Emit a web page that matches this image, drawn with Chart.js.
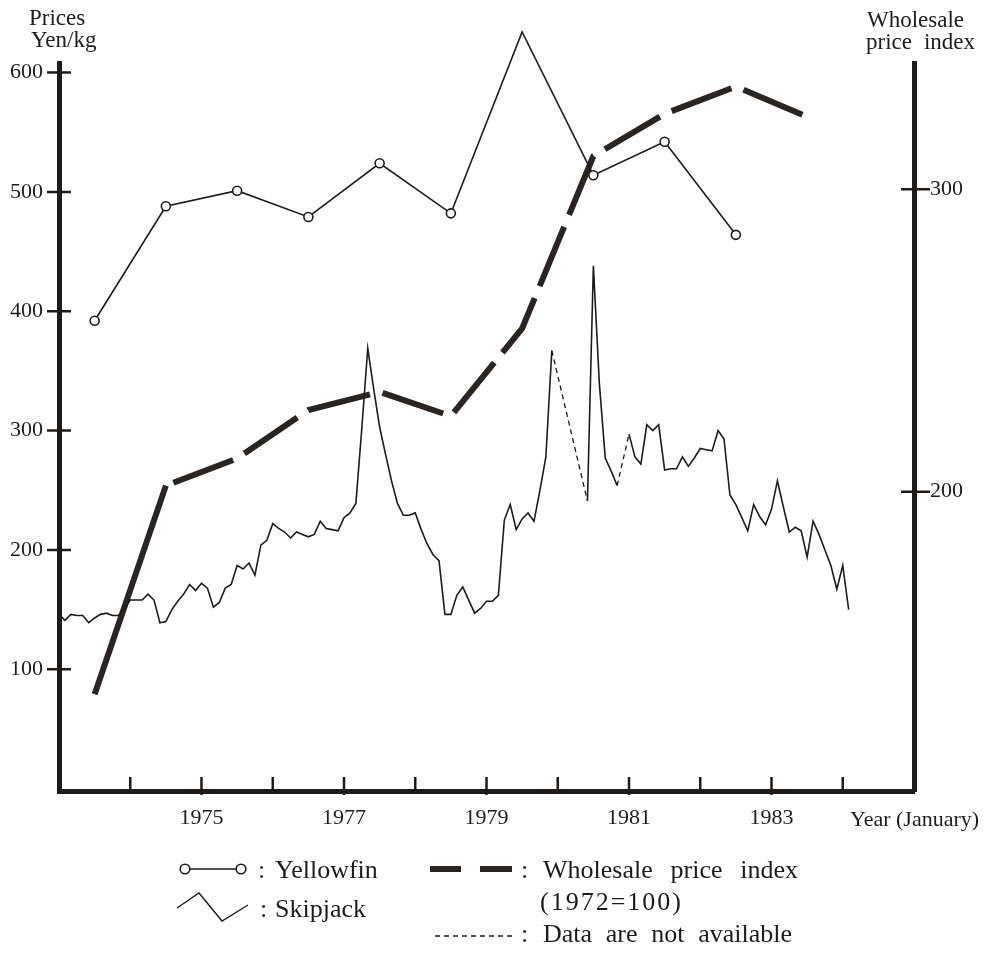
<!DOCTYPE html>
<html>
<head>
<meta charset="utf-8">
<title>Tuna prices and wholesale price index</title>
<script src="https://cdn.jsdelivr.net/npm/chart.js@4.4.1/dist/chart.umd.min.js"></script>
<style>
  html, body { margin: 0; padding: 0; background: #fff; }
  canvas { display: block; }
</style>
</head>
<body>
<canvas id="chart" width="989" height="953"></canvas>
<script>
const INK = '#1f1b18';
const SERIF = '"Liberation Serif", "DejaVu Serif", serif';

// Yellowfin, yearly averages (plotted mid-year), Yen/kg
const yellowfinYears = [1973.5, 1974.5, 1975.5, 1976.5, 1977.5, 1978.5, 1979.5, 1980.5, 1981.5, 1982.5];
const yellowfinPrices = [392, 488, 501, 479, 524, 482, 634, 514, 542, 464];

// Wholesale price index (1972 = 100), right axis
const wpiYears = [1973.5, 1974.5, 1975.5, 1976.5, 1977.5, 1978.5, 1979.5, 1980.5, 1981.5, 1982.5, 1983.5];
const wpiValues = [133, 202, 211, 227, 233, 225, 254, 311, 325, 334, 324];

// Skipjack, monthly from January 1973, Yen/kg (null = data not available)
const skipjackStart = 1973;
const skipjackPrices = [
  146, 141, 146, 145, 145, 139, 143, 146, 147, 145, 145, 151,   // 1973
  158, 158, 158, 163, 158, 139, 140, 150, 157, 163, 171, 166,   // 1974
  172, 168, 152, 156, 168, 171, 187, 184, 189, 179, 204, 208,   // 1975
  222, 218, 215, 210, 215, 213, 211, 213, 224, 218, 217, 216,   // 1976
  227, 231, 239, 302, 369, 335, 303, 280, 258, 239, 229, 229,   // 1977
  231, 217, 205, 196, 191, 146, 146, 162, 169, 158, 147, 151,   // 1978
  157, 157, 162, 225, 238, 217, 226, 231, 224, 250, 278, 367,   // 1979
  null, null, null, null, null, 241, 438, 340, 277, 266, 254, null, // 1980
  297, 278, 272, 305, 300, 305, 267, 268, 268, 278, 270, 277,   // 1981
  285, 284, 283, 300, 293, 246, 238, 227, 216, 238, 228, 221,   // 1982
  234, 258, 236, 215, 219, 216, 194, 224, 213, 200, 187, 167,   // 1983
  187, 150                                                      // 1984
];

const leftTicks = [100, 200, 300, 400, 500, 600];
const rightTicks = [200, 300];
const yearLabels = [1975, 1977, 1979, 1981, 1983];
const yearTicks = [1974, 1975, 1976, 1977, 1978, 1979, 1980, 1981, 1982, 1983, 1984];

const skipped = (c, v) => (c.p0.skip || c.p1.skip ? v : undefined);

// draw words so they fill the span x0..x1 (the print has loose word spacing)
function spread(ctx, text, x0, x1, y) {
  const words = text.split(' ');
  const widths = words.map(w => ctx.measureText(w).width);
  const total = widths.reduce((a, b) => a + b, 0);
  const gap = words.length > 1 ? (x1 - x0 - total) / (words.length - 1) : 0;
  let x = x0;
  words.forEach((w, i) => {
    ctx.fillText(w, x, y);
    x += widths[i] + gap;
  });
}

const axisMarks = {
  id: 'axisMarks',
  afterDraw(chart) {
    const { ctx, chartArea: a, scales: { x, y, y1 } } = chart;
    ctx.save();
    ctx.strokeStyle = INK;
    ctx.lineWidth = 2.5;
    ctx.beginPath();
    leftTicks.forEach(v => {
      const py = y.getPixelForValue(v);
      ctx.moveTo(a.left - 12, py);
      ctx.lineTo(a.left + 12, py);
    });
    rightTicks.forEach(v => {
      const py = y1.getPixelForValue(v);
      ctx.moveTo(a.right - 13, py);
      ctx.lineTo(a.right + 16, py);
    });
    yearTicks.forEach(t => {
      const px = x.getPixelForValue(t);
      ctx.moveTo(px, a.bottom - 14);
      ctx.lineTo(px, a.bottom + (yearLabels.includes(t) ? 4 : 0));
    });
    ctx.stroke();

    // axis titles
    ctx.fillStyle = INK;
    ctx.font = '23px ' + SERIF;
    ctx.textBaseline = 'alphabetic';
    ctx.fillText('Prices', 29, 25);
    ctx.fillText('Yen/kg', 31, 47);
    ctx.fillText('Wholesale', 867, 27);
    spread(ctx, 'price index', 866, 975, 49);
    ctx.font = '22px ' + SERIF;
    ctx.fillText('Year (January)', 850, 826);
    ctx.restore();
  }
};

const legendMarks = {
  id: 'legendMarks',
  afterDraw(chart) {
    const ctx = chart.ctx;
    ctx.save();
    ctx.strokeStyle = INK;
    ctx.lineWidth = 1.6;
    ctx.beginPath();
    ctx.moveTo(190, 869);
    ctx.lineTo(236, 869);
    ctx.stroke();
    [185, 241].forEach(cx => {
      ctx.beginPath();
      ctx.arc(cx, 869, 4.8, 0, Math.PI * 2);
      ctx.fillStyle = '#fff';
      ctx.fill();
      ctx.stroke();
    });
    ctx.lineWidth = 1.4;
    ctx.beginPath();
    ctx.moveTo(177, 908);
    ctx.lineTo(199, 893);
    ctx.lineTo(222, 921);
    ctx.lineTo(248, 905);
    ctx.stroke();

    ctx.strokeStyle = '#2a2522';
    ctx.lineWidth = 6;
    ctx.beginPath();
    ctx.moveTo(430, 869); ctx.lineTo(461, 869);
    ctx.moveTo(480, 869); ctx.lineTo(512, 869);
    ctx.stroke();

    ctx.strokeStyle = INK;
    ctx.lineWidth = 1.3;
    ctx.setLineDash([5, 4]);
    ctx.beginPath();
    ctx.moveTo(435, 936);
    ctx.lineTo(514, 936);
    ctx.stroke();
    ctx.setLineDash([]);

    ctx.fillStyle = INK;
    ctx.font = '26px ' + SERIF;
    ctx.fillText(':', 258, 878);
    ctx.fillText('Yellowfin', 275, 878);
    ctx.fillText(':', 260, 917);
    ctx.fillText('Skipjack', 275, 917);
    ctx.fillText(':', 521, 878);
    spread(ctx, 'Wholesale price index', 543, 798, 878);
    ctx.letterSpacing = '2px';
    ctx.fillText('(1972=100)', 540, 910);
    ctx.letterSpacing = '0px';
    ctx.fillText(':', 521, 942);
    spread(ctx, 'Data are not available', 543, 792, 942);
    ctx.restore();
  }
};

const tickFont = { family: SERIF, size: 22 };

new Chart(document.getElementById('chart'), {
  type: 'line',
  data: {
    datasets: [
      {
        label: 'Yellowfin',
        data: yellowfinYears.map((t, i) => ({ x: t, y: yellowfinPrices[i] })),
        yAxisID: 'y',
        borderColor: INK,
        borderWidth: 1.6,
        pointRadius: 4.5,
        pointBackgroundColor: '#fff',
        pointBorderColor: INK,
        pointBorderWidth: 1.6,
        clip: false
      },
      {
        label: 'Skipjack',
        data: skipjackPrices.map((v, i) => ({ x: skipjackStart + i / 12, y: v })),
        yAxisID: 'y',
        borderColor: INK,
        borderWidth: 1.6,
        pointRadius: 0,
        spanGaps: true,
        segment: {
          borderDash: c => skipped(c, [5, 4]),
          borderWidth: c => skipped(c, 1.3)
        },
        clip: false
      },
      {
        label: 'Wholesale price index',
        data: wpiYears.map((t, i) => ({ x: t, y: wpiValues[i] })),
        yAxisID: 'y1',
        borderColor: '#2a2522',
        borderWidth: 6,
        pointRadius: 0,
        segment: {
          borderDash: c => (c.p0DataIndex === 0 ? [] : [64, 13]),
          borderDashOffset: c => (c.p0DataIndex === 0 ? 0 : 69)
        },
        clip: false
      }
    ]
  },
  options: {
    responsive: false,
    animation: false,
    events: [],
    layout: { padding: { top: 63, left: 0, right: 0, bottom: 0 } },
    plugins: { legend: { display: false }, tooltip: { enabled: false } },
    scales: {
      x: {
        type: 'linear',
        position: 'bottom',
        min: 1973,
        max: 1985,
        afterFit: s => { s.height = 162; },
        afterBuildTicks: s => { s.ticks = yearLabels.map(v => ({ value: v })); },
        grid: { display: false, drawTicks: false },
        border: { display: true, width: 5, color: INK },
        ticks: { color: INK, font: tickFont, padding: 14, autoSkip: false, maxRotation: 0, callback: v => String(v) }
      },
      y: {
        position: 'left',
        min: -2,
        max: 608,
        afterFit: s => { s.width = 59; },
        afterBuildTicks: s => { s.ticks = leftTicks.map(v => ({ value: v })); },
        grid: { display: false, drawTicks: false },
        border: { display: true, width: 5, color: INK },
        ticks: { color: INK, font: tickFont, padding: 16, callback: v => String(v) }
      },
      y1: {
        position: 'right',
        min: 101,
        max: 341.8,
        afterFit: s => { s.width = 75; },
        afterBuildTicks: s => { s.ticks = rightTicks.map(v => ({ value: v })); },
        grid: { display: false, drawTicks: false },
        border: { display: true, width: 5, color: INK },
        ticks: { color: INK, font: tickFont, padding: 16, callback: v => String(v) }
      }
    }
  },
  plugins: [axisMarks, legendMarks]
});
</script>
</body>
</html>
